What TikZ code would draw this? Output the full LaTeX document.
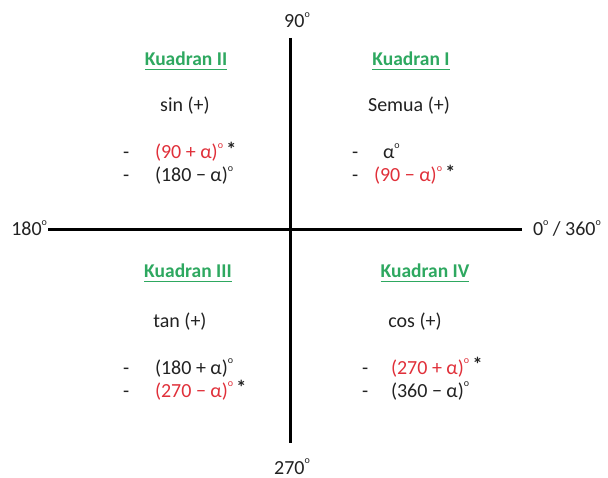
\documentclass[tikz,border=0pt]{standalone}
\usepackage{fontspec}
\setmainfont{Carlito}
\definecolor{qgreen}{HTML}{2EA860}
\definecolor{qred}{HTML}{E0303A}
\definecolor{qtext}{HTML}{222222}
\newcommand{\dg}{\raisebox{0.52em}{\fontsize{10}{10}\selectfont o}}
\newcommand{\st}{\raisebox{0.1em}{\bfseries *}}
\begin{document}
\begin{tikzpicture}[x=1pt,y=-1pt,
  every node/.style={inner sep=0pt,outer sep=0pt,font=\fontsize{20}{22}\selectfont,text=qtext},
  axis/.style={line width=3pt,black},
  qtitle/.style={font=\fontsize{19.5}{22}\selectfont\bfseries,text=qgreen},
  rowtxt/.style={anchor=base west},
  uline/.style={qgreen,line width=1.8pt}]
\useasboundingbox (0,0) rectangle (608,478);
% axes
\coordinate (top) at (290,38);
\coordinate (bot) at (290,443);
\coordinate (lft) at (48,230);
\coordinate (rgt) at (522,230);
\draw[axis] (top) -- (bot);
\draw[axis] (lft) -- (rgt);
\node[anchor=base] (n90) at (297,28) {90\dg};
\node[anchor=base] (n270) at (292,474) {270\dg};
\node[anchor=base east] (n180) at (47,236) {180\dg};
\node[anchor=base west] (n0) at (533,236) {0\dg\ / 360\dg};
% Quadrant II
\node[qtitle,anchor=base] (t2) at (186,66) {Kuadran II};
\draw[uline] ([yshift=-3.5pt]t2.base west) -- ([yshift=-3.5pt]t2.base east);
\node[anchor=base] (s2) at (185,112) {sin (+)};
\node[rowtxt] (d2a) at (123,159) {-};
\node[rowtxt] (r2a) at (155,159) {\textcolor{qred}{(90 + α)\dg}\,\st};
\node[rowtxt] (d2b) at (123,182) {-};
\node[rowtxt] (r2b) at (155,182) {(180 − α)\dg};
% Quadrant I
\node[qtitle,anchor=base] (t1) at (411,66) {Kuadran I};
\draw[uline] ([yshift=-3.5pt]t1.base west) -- ([yshift=-3.5pt]t1.base east);
\node[anchor=base] (s1) at (409,112) {Semua (+)};
\node[rowtxt] (d1a) at (352,159) {-};
\node[rowtxt] (r1a) at (383,159) {α\dg};
\node[rowtxt] (d1b) at (352,182) {-};
\node[rowtxt] (r1b) at (374,182) {\textcolor{qred}{(90 − α)\dg}\,\st};
% Quadrant III
\node[qtitle,anchor=base] (t3) at (188,278) {Kuadran III};
\draw[uline] ([yshift=-3.5pt]t3.base west) -- ([yshift=-3.5pt]t3.base east);
\node[anchor=base] (s3) at (180,328) {tan (+)};
\node[rowtxt] (d3a) at (123,374) {-};
\node[rowtxt] (r3a) at (155,374) {(180 + α)\dg};
\node[rowtxt] (d3b) at (123,397) {-};
\node[rowtxt] (r3b) at (155,397) {\textcolor{qred}{(270 − α)\dg}\,\st};
% Quadrant IV
\node[qtitle,anchor=base] (t4) at (425,278) {Kuadran IV};
\draw[uline] ([yshift=-3.5pt]t4.base west) -- ([yshift=-3.5pt]t4.base east);
\node[anchor=base] (s4) at (415,328) {cos (+)};
\node[rowtxt] (d4a) at (362,374) {-};
\node[rowtxt] (r4a) at (391,374) {\textcolor{qred}{(270 + α)\dg}\,\st};
\node[rowtxt] (d4b) at (362,397) {-};
\node[rowtxt] (r4b) at (391,397) {(360 − α)\dg};
\end{tikzpicture}
\end{document}
